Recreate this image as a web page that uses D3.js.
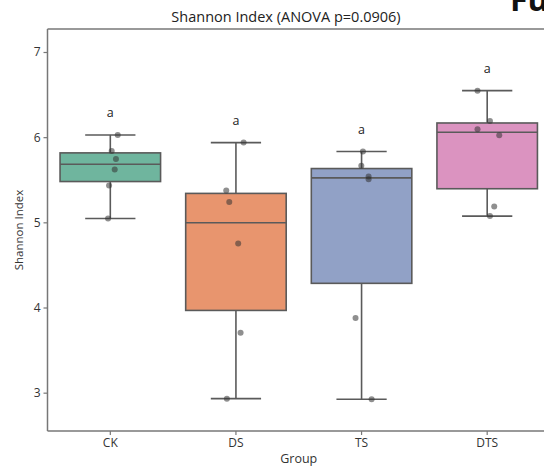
<!DOCTYPE html>
<html>
<head>
<meta charset="utf-8">
<script src="https://cdn.jsdelivr.net/npm/d3@7"></script>
<style>
  html, body { margin: 0; padding: 0; background: #fff; }
  svg { display: block; font-family: "Open Sans", "Noto Sans", sans-serif; }
</style>
</head>
<body>
<svg id="chart" width="544" height="467"></svg>
<script>
// Shannon index per sample, grouped by treatment
const groups = ["CK", "DS", "TS", "DTS"];
const ckValues  = [6.026, 5.839, 5.745, 5.620, 5.432, 5.045];
const dsValues  = [5.936, 5.373, 5.240, 4.751, 3.704, 2.930];
const tsValues  = [5.831, 5.663, 5.537, 5.507, 3.876, 2.922];
const dtsValues = [6.546, 6.191, 6.093, 6.023, 5.185, 5.073];
// horizontal strip-plot jitter, as a fraction of the category width
const ckJitter  = [0.059, 0.011, 0.045, 0.035, -0.010, -0.018];
const dsJitter  = [0.061, -0.077, -0.053, 0.018, 0.037, -0.072];
const tsJitter  = [0.011, -0.002, 0.056, 0.056, -0.048, 0.080];
const dtsJitter = [-0.077, 0.022, -0.077, 0.096, 0.056, 0.022];
const letters = ["a", "a", "a", "a"];
const yTicks = [3, 4, 5, 6, 7];
const boxColors = ["#6fb59e", "#e8956e", "#91a1c6", "#db93c0"];

const series = [
  { group: groups[0], values: ckValues,  jitter: ckJitter,  letter: letters[0], color: boxColors[0] },
  { group: groups[1], values: dsValues,  jitter: dsJitter,  letter: letters[1], color: boxColors[1] },
  { group: groups[2], values: tsValues,  jitter: tsJitter,  letter: letters[2], color: boxColors[2] },
  { group: groups[3], values: dtsValues, jitter: dtsJitter, letter: letters[3], color: boxColors[3] }
];

const svg = d3.select("#chart");
const mLeft = 47.5, mRight = 550, mTop = 29, mBottom = 431;

const x = d3.scaleBand().domain(groups).range([mLeft, mRight]).padding(0);
const y = d3.scaleLinear().domain([2.55, 7.27]).range([mBottom, mTop]);
const bw = x.bandwidth();
const boxW = bw * 0.8;
const capW = boxW * 0.5;
const lineColor = "#5a5a5a";

// box statistics (linear-interpolated quartiles, whiskers to min/max)
series.forEach(s => {
  const v = s.values.slice().sort(d3.ascending);
  s.q1 = d3.quantile(v, 0.25);
  s.med = d3.quantile(v, 0.5);
  s.q3 = d3.quantile(v, 0.75);
  s.lo = v[0];
  s.hi = v[v.length - 1];
  s.cx = x(s.group) + bw / 2;
});

const plot = svg.append("g");

// whiskers, caps, boxes and medians
series.forEach(s => {
  const g = plot.append("g");
  g.append("line").attr("x1", s.cx).attr("x2", s.cx)
    .attr("y1", y(s.q3)).attr("y2", y(s.hi))
    .attr("stroke", lineColor).attr("stroke-width", 1.6);
  g.append("line").attr("x1", s.cx).attr("x2", s.cx)
    .attr("y1", y(s.q1)).attr("y2", y(s.lo))
    .attr("stroke", lineColor).attr("stroke-width", 1.6);
  [s.hi, s.lo].forEach(v => {
    g.append("line").attr("x1", s.cx - capW / 2).attr("x2", s.cx + capW / 2)
      .attr("y1", y(v)).attr("y2", y(v))
      .attr("stroke", lineColor).attr("stroke-width", 1.6);
  });
  g.append("rect")
    .attr("x", s.cx - boxW / 2).attr("width", boxW)
    .attr("y", y(s.q3)).attr("height", y(s.q1) - y(s.q3))
    .attr("fill", s.color).attr("stroke", lineColor).attr("stroke-width", 1.6);
  g.append("line").attr("x1", s.cx - boxW / 2).attr("x2", s.cx + boxW / 2)
    .attr("y1", y(s.med)).attr("y2", y(s.med))
    .attr("stroke", lineColor).attr("stroke-width", 1.6);
});

// individual samples
series.forEach(s => {
  plot.selectAll(null).data(s.values.map((v, i) => ({ v, j: s.jitter[i] })))
    .enter().append("circle")
    .attr("cx", d => s.cx + d.j * bw)
    .attr("cy", d => y(d.v))
    .attr("r", 3)
    .attr("fill", "#333")
    .attr("fill-opacity", 0.55);
});

// significance letters above each whisker
series.forEach(s => {
  plot.append("text")
    .attr("x", s.cx).attr("y", y(s.hi + 0.26) + 4.5)
    .attr("text-anchor", "middle")
    .attr("font-size", 12.5).attr("fill", "#222")
    .text(s.letter);
});

// axes
const spine = "#777";
const yAxis = svg.append("g").attr("transform", `translate(${mLeft},0)`)
  .call(d3.axisLeft(y).tickValues(yTicks).tickSize(4).tickPadding(3).tickFormat(d3.format("d")));
const xAxis = svg.append("g").attr("transform", `translate(0,${mBottom})`)
  .call(d3.axisBottom(x).tickSize(4).tickPadding(3));
[yAxis, xAxis].forEach(a => {
  a.select(".domain").remove();
  a.selectAll(".tick line").attr("stroke", spine).attr("stroke-width", 1.2);
  a.selectAll(".tick text").attr("fill", "#333").attr("font-size", 12)
    .attr("font-family", "'Open Sans', sans-serif");
});

// frame
svg.append("line").attr("x1", mLeft).attr("x2", mLeft).attr("y1", mTop).attr("y2", mBottom)
  .attr("stroke", spine).attr("stroke-width", 1.5);
svg.append("line").attr("x1", mLeft).attr("x2", mRight).attr("y1", mBottom).attr("y2", mBottom)
  .attr("stroke", spine).attr("stroke-width", 1.5);
svg.append("line").attr("x1", mLeft).attr("x2", mRight).attr("y1", mTop).attr("y2", mTop)
  .attr("stroke", spine).attr("stroke-width", 1.5);
svg.append("line").attr("x1", mRight).attr("x2", mRight).attr("y1", mTop).attr("y2", mBottom)
  .attr("stroke", spine).attr("stroke-width", 1.5);

// titles
svg.append("text").attr("x", 286).attr("y", 22).attr("text-anchor", "middle")
  .attr("font-size", 14.5).attr("fill", "#222")
  .text("Shannon Index (ANOVA p=0.0906)");
svg.append("text").attr("x", (mLeft + mRight) / 2).attr("y", 462.5).attr("text-anchor", "middle")
  .attr("font-size", 12.5).attr("fill", "#333").text("Group");
svg.append("text").attr("transform", `translate(23,${(mTop + mBottom) / 2}) rotate(-90)`)
  .attr("text-anchor", "middle").attr("font-size", 11.5).attr("fill", "#333")
  .text("Shannon Index");

// neighbouring panel heading, cut by the edge
svg.append("text").attr("x", 510).attr("y", 11)
  .attr("font-size", 32).attr("font-weight", "bold").attr("fill", "#111")
  .text("Fu");
</script>
</body>
</html>
